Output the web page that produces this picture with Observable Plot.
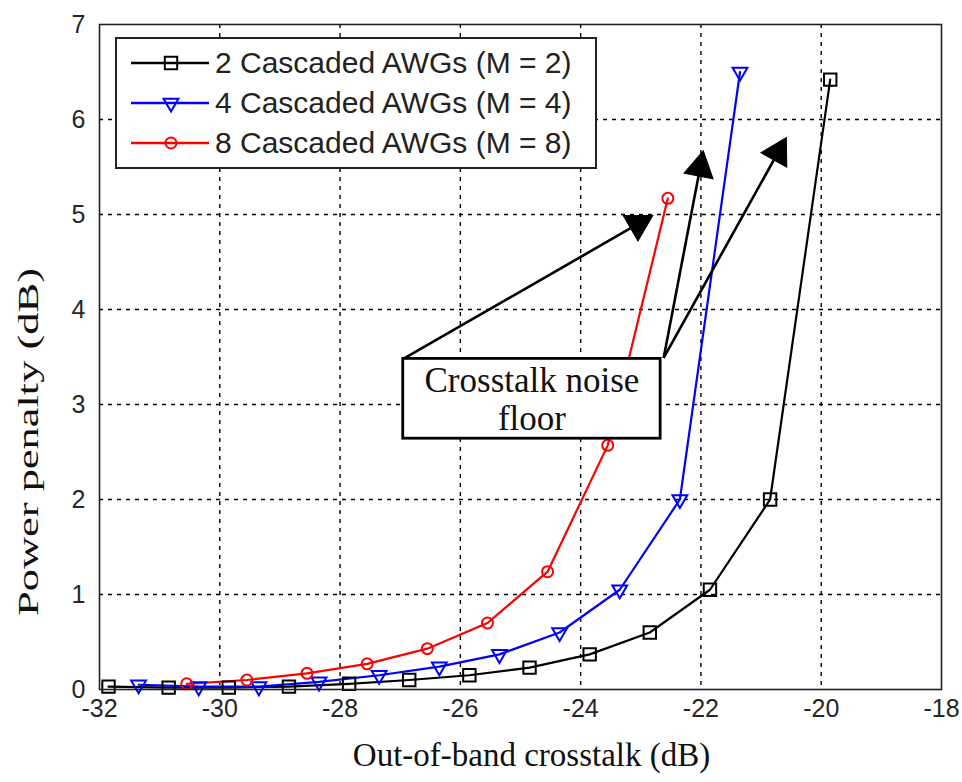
<!DOCTYPE html>
<html><head><meta charset="utf-8">
<script src="https://cdn.jsdelivr.net/npm/d3@7"></script>
<script src="https://cdn.jsdelivr.net/npm/@observablehq/plot@0.6"></script>
<style>
body{margin:0;background:#fff;}
#wrap{position:relative;width:962px;height:782px;}
#legend{position:absolute;left:115px;top:37px;width:478px;height:128px;border:2px solid #222;background:#fff;font-family:"Liberation Sans",Arial,sans-serif;font-size:30px;color:#222;}
.row{position:absolute;left:0;height:40px;display:flex;align-items:center;white-space:nowrap;}
.row svg{display:block;}
</style></head><body><div id="wrap"></div>
<script>
// ---- data ----
const seriesNames = ["2 Cascaded AWGs (M = 2)", "4 Cascaded AWGs (M = 4)", "8 Cascaded AWGs (M = 8)"];
const seriesColors = ["#000000", "#0000ff", "#ff0000"];
const seriesSymbols = ["square", "triangle", "circle"];
const seriesRotate = [0, 180, 0];
const seriesR = [7, 5.5, 5.5];

const x2 = [-31.85, -30.85, -29.85, -28.85, -27.85, -26.85, -25.85, -24.85, -23.85, -22.85, -21.85, -20.85, -19.85];
const y2 = [0.03, 0.02, 0.02, 0.03, 0.06, 0.1, 0.15, 0.23, 0.37, 0.6, 1.05, 2.0, 6.42];
const x4 = [-31.35, -30.35, -29.35, -28.35, -27.35, -26.35, -25.35, -24.35, -23.35, -22.35, -21.35];
const y4 = [0.05, 0.03, 0.03, 0.08, 0.15, 0.24, 0.37, 0.6, 1.05, 2.0, 6.5];
const x8 = [-30.55, -29.55, -28.55, -27.55, -26.55, -25.55, -24.55, -23.55, -22.55];
const y8 = [0.06, 0.1, 0.17, 0.27, 0.43, 0.7, 1.24, 2.57, 5.17];

const xTicks = [-32, -30, -28, -26, -24, -22, -20, -18];
const yTicks = [0, 1, 2, 3, 4, 5, 6, 7];
const xLabel = "Out-of-band crosstalk (dB)";
const yLabel = "Power penalty (dB)";

const noteText = "Crosstalk noise\nfloor";
const noteBoxX = [-26.95, -22.67];
const noteBoxY = [2.64, 3.48];
const arrowX1 = [-26.95, -22.62, -22.62];
const arrowY1 = [3.48, 3.49, 3.49];
const arrowX2 = [-22.80, -21.96, -20.58];
const arrowY2 = [4.99, 5.67, 5.81];

// ---- build ----
const W = 962, H = 782, mL = 99, mR = 21, mT = 24, mB = 93;
const xDomain = [xTicks[0], xTicks[xTicks.length - 1]];
const yDomain = [yTicks[0], yTicks[yTicks.length - 1]];

const seriesX = [x2, x4, x8], seriesY = [y2, y4, y8];
const rows = [];
seriesX.forEach((xs, s) => xs.forEach((x, i) => rows.push({x, y: seriesY[s][i], s})));

// geometry helper for arrowheads (mirrors Plot's linear scales)
const sx = d3.scaleLinear().domain(xDomain).range([mL, W - mR]);
const sy = d3.scaleLinear().domain(yDomain).range([H - mB, mT]);
const headR = 11;
const headK = headR * Math.sqrt(Math.PI / (3 * Math.sqrt(3)));
const arrows = arrowX1.map((_, i) => {
  const px1 = sx(arrowX1[i]), py1 = sy(arrowY1[i]);
  const px2 = sx(arrowX2[i]), py2 = sy(arrowY2[i]);
  const L = Math.hypot(px2 - px1, py2 - py1);
  const ux = (px2 - px1) / L, uy = (py2 - py1) / L;
  const cx = px2 - 2 * headK * ux, cy = py2 - 2 * headK * uy;
  return {
    x1: arrowX1[i], y1: arrowY1[i],
    cx: sx.invert(cx), cy: sy.invert(cy),
    rot: Math.atan2(ux, -uy) * 180 / Math.PI
  };
});

const sans = '"Liberation Sans", Arial, sans-serif';
const serif = '"Liberation Serif", "Times New Roman", serif';
const inner = (t) => t.slice(1, -1);

const plot = Plot.plot({
  width: W, height: H,
  marginLeft: mL, marginRight: mR, marginTop: mT, marginBottom: mB,
  x: {domain: xDomain},
  y: {domain: yDomain},
  style: {fontFamily: sans, fontSize: "25px", color: "#262626", background: "#fff"},
  marks: [
    Plot.gridX(inner(xTicks), {stroke: "#000", strokeOpacity: 1, strokeWidth: 1.4, strokeDasharray: "4,5"}),
    Plot.gridY(inner(yTicks), {stroke: "#000", strokeOpacity: 1, strokeWidth: 1.4, strokeDasharray: "4,5"}),
    Plot.axisX(xTicks, {tickSize: 0, tickPadding: 10, tickFormat: d => String(d), label: null, fontSize: 25}),
    Plot.axisY(yTicks, {tickSize: 0, tickPadding: 14, tickFormat: d => String(d), label: null, fontSize: 25}),
    ...[0, 1, 2].map(s => Plot.line(rows.filter(d => d.s === s), {x: "x", y: "y", stroke: seriesColors[s], strokeWidth: 2.2})),
    ...[0, 1, 2].map(s => Plot.dot(rows.filter(d => d.s === s), {x: "x", y: "y", symbol: seriesSymbols[s], rotate: seriesRotate[s], r: seriesR[s], stroke: seriesColors[s], strokeWidth: 2, fill: "none"})),
    Plot.link(arrows, {x1: "x1", y1: "y1", x2: "cx", y2: "cy", stroke: "#000", strokeWidth: 2.6}),
    Plot.dot(arrows, {x: "cx", y: "cy", symbol: "triangle", r: headR, rotate: "rot", fill: "#000", stroke: "#000", strokeWidth: 1}),
    Plot.rect([0], {x1: noteBoxX[0], x2: noteBoxX[1], y1: noteBoxY[0], y2: noteBoxY[1], fill: "#fff", stroke: "#000", strokeWidth: 2.8}),
    Plot.text([noteText], {x: (noteBoxX[0] + noteBoxX[1]) / 2, y: (noteBoxY[0] + noteBoxY[1]) / 2, fontFamily: serif, fontSize: 35, lineHeight: 1.1, fill: "#111"}),
    Plot.frame({stroke: "#222", strokeWidth: 1.6}),
    Plot.text([xLabel], {frameAnchor: "bottom", dy: 76, dx: 11, fontFamily: serif, fontSize: 33, fill: "#111"}),
    Plot.text([yLabel], {frameAnchor: "left", rotate: -90, textAnchor: "start", dx: -71, dy: 259, fontFamily: serif, fontSize: 29, fill: "#111"})
  ]
});

// stretch y label to match reference length
plot.querySelectorAll("text").forEach(t => {
  if (t.textContent === yLabel) { t.setAttribute("textLength", 348); t.setAttribute("lengthAdjust", "spacingAndGlyphs"); }
});

const wrap = document.getElementById("wrap");
wrap.appendChild(plot);

// legend overlay
const legend = document.createElement("div");
legend.id = "legend";
seriesNames.forEach((name, s) => {
  const row = document.createElement("div");
  row.className = "row";
  row.style.top = (4 + s * 40) + "px";
  const sym = d3.symbol(s === 0 ? d3.symbolSquare : s === 1 ? d3.symbolTriangle : d3.symbolCircle, Math.PI * seriesR[s] * seriesR[s])();
  row.innerHTML = `<svg width="98" height="40"><line x1="14" x2="92" y1="20" y2="20" stroke="${seriesColors[s]}" stroke-width="2.4"/>` +
    `<path d="${sym}" transform="translate(54,20) rotate(${seriesRotate[s]})" fill="none" stroke="${seriesColors[s]}" stroke-width="2"/></svg>` +
    `<span>${name}</span>`;
  legend.appendChild(row);
});
wrap.appendChild(legend);
</script>
</body></html>
